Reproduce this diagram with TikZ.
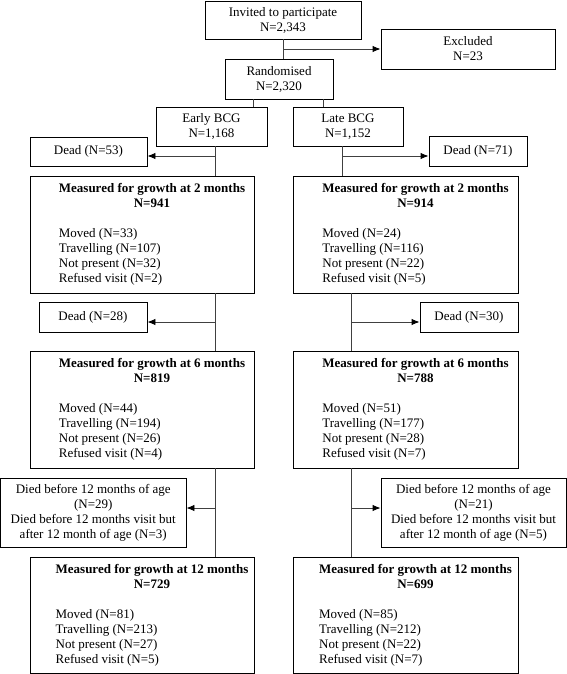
\documentclass[tikz,border=0pt]{standalone}
\usepackage{fontspec}
\setmainfont{Liberation Serif}
\usetikzlibrary{arrows.meta}
\begin{document}
\begin{tikzpicture}[x=1pt,y=-1pt,
  box/.style={draw=black, line width=0.9pt, rectangle, inner sep=0pt, align=center, font=\fontsize{13}{15}\selectfont},
  txt/.style={inner sep=0pt, font=\fontsize{13}{15}\selectfont},
  link/.style={draw=black!75, line width=0.9pt},
  arr/.style={link, -{Latex[length=8pt,width=6.5pt,color=black]}}]
\useasboundingbox (0,0) rectangle (567,674);

\node[box, minimum width=156pt, minimum height=38pt] (inv) at (283,20) {Invited to participate\\N=2,343};
\node[box, minimum width=174pt, minimum height=40pt] (exc) at (468,49) {Excluded\\N=23};
\node[box, minimum width=108pt, minimum height=40pt] (rand) at (279,79) {Randomised\\N=2,320};
\node[box, minimum width=111pt, minimum height=39pt] (early) at (211.5,126.5) {Early BCG\\N=1,168};
\node[box, minimum width=110pt, minimum height=39pt] (late) at (348,126.5) {Late BCG\\N=1,152};

\node[box, minimum width=117pt, minimum height=29pt] (d53) at (88.5,151.5) {Dead (N=53)};
\node[box, minimum width=98pt, minimum height=30pt] (d71) at (478,151) {Dead (N=71)};

\node[box, minimum width=224pt, minimum height=117pt] (m2l) at (142,234.5) {};
\node[txt] (m2lt) at (152,234.5) {\begin{tabular}{@{}l@{}}
\multicolumn{1}{@{}c@{}}{\textbf{Measured for growth at 2 months}}\\
\multicolumn{1}{@{}c@{}}{\textbf{N=941}}\\
\\
Moved (N=33)\\
Travelling (N=107)\\
Not present (N=32)\\
Refused visit (N=2)
\end{tabular}};
\node[box, minimum width=225pt, minimum height=117pt] (m2r) at (405.5,234.5) {};
\node[txt] (m2rt) at (415.5,234.5) {\begin{tabular}{@{}l@{}}
\multicolumn{1}{@{}c@{}}{\textbf{Measured for growth at 2 months}}\\
\multicolumn{1}{@{}c@{}}{\textbf{N=914}}\\
\\
Moved (N=24)\\
Travelling (N=116)\\
Not present (N=22)\\
Refused visit (N=5)
\end{tabular}};

\node[box, minimum width=108pt, minimum height=30pt] (d28) at (93,317) {Dead (N=28)};
\node[box, minimum width=98pt, minimum height=30pt] (d30) at (469,317) {Dead (N=30)};

\node[box, minimum width=224pt, minimum height=117pt] (m6l) at (142,409.5) {};
\node[txt] (m6lt) at (152,409.5) {\begin{tabular}{@{}l@{}}
\multicolumn{1}{@{}c@{}}{\textbf{Measured for growth at 6 months}}\\
\multicolumn{1}{@{}c@{}}{\textbf{N=819}}\\
\\
Moved (N=44)\\
Travelling (N=194)\\
Not present (N=26)\\
Refused visit (N=4)
\end{tabular}};
\node[box, minimum width=225pt, minimum height=117pt] (m6r) at (405.5,409.5) {};
\node[txt] (m6rt) at (415.5,409.5) {\begin{tabular}{@{}l@{}}
\multicolumn{1}{@{}c@{}}{\textbf{Measured for growth at 6 months}}\\
\multicolumn{1}{@{}c@{}}{\textbf{N=788}}\\
\\
Moved (N=51)\\
Travelling (N=177)\\
Not present (N=28)\\
Refused visit (N=7)
\end{tabular}};

\node[box, minimum width=185.5pt, minimum height=69pt] (diedl) at (93.25,512.5) {Died before 12 months of age\\(N=29)\\Died before 12 months visit but\\after 12 month of age (N=3)};
\node[box, minimum width=185pt, minimum height=69pt] (diedr) at (473.5,512.5) {Died before 12 months of age\\(N=21)\\Died before 12 months visit but\\after 12 month of age (N=5)};

\node[box, minimum width=224pt, minimum height=116pt] (m12l) at (142,615) {};
\node[txt] (m12lt) at (152,615) {\begin{tabular}{@{}l@{}}
\multicolumn{1}{@{}c@{}}{\textbf{Measured for growth at 12 months}}\\
\multicolumn{1}{@{}c@{}}{\textbf{N=729}}\\
\\
Moved (N=81)\\
Travelling (N=213)\\
Not present (N=27)\\
Refused visit (N=5)
\end{tabular}};
\node[box, minimum width=225pt, minimum height=116pt] (m12r) at (405.5,615) {};
\node[txt] (m12rt) at (415.5,615) {\begin{tabular}{@{}l@{}}
\multicolumn{1}{@{}c@{}}{\textbf{Measured for growth at 12 months}}\\
\multicolumn{1}{@{}c@{}}{\textbf{N=699}}\\
\\
Moved (N=85)\\
Travelling (N=212)\\
Not present (N=22)\\
Refused visit (N=7)
\end{tabular}};

% connectors
\draw[link] (inv.south) -- (inv.south |- rand.north);
\draw[arr] (inv.south |- exc.west) -- (exc.west);
\draw[link] ([xshift=29pt]rand.south west) -- ([xshift=29pt]rand.south west |- early.north);
\draw[link] ([xshift=-10pt]rand.south east) -- ([xshift=-10pt]rand.south east |- late.north);

\coordinate (cl) at (215,0);
\coordinate (cr1) at (342,0);
\coordinate (cr) at (351.5,0);
\coordinate (ya) at (0,156);
\coordinate (yb) at (0,322);
\coordinate (yc) at (0,508);

\draw[link] (early.south -| cl) -- (m2l.north -| cl);
\draw[arr] (cl |- ya) -- (d53.east |- ya);
\draw[link] (late.south -| cr1) -- (m2r.north -| cr1);
\draw[arr] (cr1 |- ya) -- (d71.west |- ya);

\draw[link] (m2l.south -| cl) -- (m6l.north -| cl);
\draw[arr] (cl |- yb) -- (d28.east |- yb);
\draw[link] (m2r.south -| cr) -- (m6r.north -| cr);
\draw[arr] (cr |- yb) -- (d30.west |- yb);

\draw[link] (m6l.south -| cl) -- (m12l.north -| cl);
\draw[arr] (cl |- yc) -- (diedl.east |- yc);
\draw[link] (m6r.south -| cr) -- (m12r.north -| cr);
\draw[arr] (cr |- yc) -- (diedr.west |- yc);
\end{tikzpicture}
\end{document}
